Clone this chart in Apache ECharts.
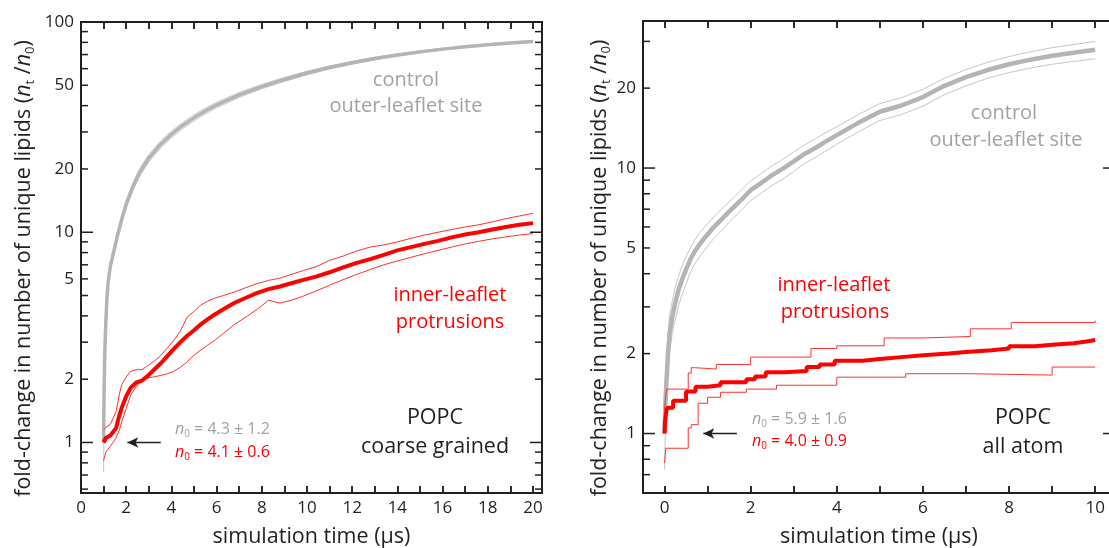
<!DOCTYPE html>
<html>
<head>
<meta charset="utf-8">
<script src="https://cdn.jsdelivr.net/npm/echarts@6/dist/echarts.min.js"></script>
<style>
  html, body { margin: 0; padding: 0; background: #fff; }
  #chart { width: 1109px; height: 548px; }
</style>
</head>
<body>
<div id="chart"></div>
<script>
// ---------- left panel: POPC coarse grained ----------
var cgCtrlTime = [1.0, 1.02, 1.05, 1.1, 1.15, 1.2, 1.3, 1.45, 1.6, 1.8, 2.0, 2.3, 2.6, 3.0, 3.5, 4.0, 4.5, 5.0, 5.5, 6.0, 7.0, 8.0, 9.0, 10, 11, 12, 13, 14, 15, 16, 17, 18, 19, 20];
var cgCtrlMean = [1.0, 1.7, 2.6, 3.8, 4.9, 5.8, 6.9, 8.1, 9.5, 11.5, 13.6, 16.5, 19.3, 22.5, 26.0, 29.2, 32.2, 35.0, 37.7, 40.3, 45.0, 49.3, 53.3, 57.2, 60.8, 64.0, 67.0, 69.7, 72.1, 74.3, 76.2, 78.0, 79.5, 80.8];
var cgCtrlUpper = [1.28, 1.95, 2.85, 4.05, 5.15, 6.05, 7.2, 8.45, 9.9, 12.0, 14.2, 17.2, 20.1, 23.4, 27.0, 30.3, 33.3, 36.2, 38.9, 41.5, 46.2, 50.5, 54.5, 58.3, 61.8, 65.0, 67.9, 70.5, 72.9, 75.0, 76.9, 78.7, 80.2, 81.5];
var cgCtrlLower = [0.72, 1.45, 2.35, 3.55, 4.65, 5.55, 6.6, 7.75, 9.1, 11.0, 13.0, 15.8, 18.5, 21.6, 25.0, 28.1, 31.1, 33.8, 36.5, 39.1, 43.8, 48.1, 52.1, 56.1, 59.8, 63.0, 66.1, 68.9, 71.3, 73.6, 75.5, 77.3, 78.8, 80.1];

var cgProtTime = [1.0, 1.1, 1.3, 1.55, 1.7, 1.8, 2.0, 2.2, 2.45, 2.7, 2.9, 3.2, 3.5, 3.8, 4.1, 4.4, 4.7, 5.0, 5.3, 5.6, 5.9, 6.3, 6.8, 7.3, 7.8, 8.3, 8.8, 9.3, 9.8, 10.4, 11.0, 11.6, 12.2, 12.8, 13.4, 14.0, 14.6, 15.2, 15.8, 16.4, 17.0, 17.6, 18.2, 18.8, 19.4, 20.0];
var cgProtMean = [1.0, 1.05, 1.08, 1.17, 1.35, 1.46, 1.66, 1.82, 1.93, 1.97, 2.05, 2.2, 2.36, 2.56, 2.78, 3.0, 3.22, 3.42, 3.65, 3.85, 4.05, 4.3, 4.62, 4.88, 5.15, 5.36, 5.52, 5.72, 5.92, 6.15, 6.45, 6.8, 7.15, 7.45, 7.8, 8.2, 8.5, 8.8, 9.1, 9.45, 9.75, 10.0, 10.3, 10.6, 10.85, 11.05];
var cgProtUpper = [1.15, 1.18, 1.22, 1.4, 1.7, 1.88, 2.05, 2.18, 2.22, 2.22, 2.3, 2.42, 2.57, 2.8, 3.05, 3.4, 3.95, 4.2, 4.5, 4.7, 4.85, 5.0, 5.2, 5.45, 5.7, 5.9, 6.05, 6.3, 6.55, 6.85, 7.35, 7.7, 8.15, 8.5, 8.7, 9.0, 9.35, 9.7, 10.0, 10.3, 10.6, 10.85, 11.2, 11.6, 11.95, 12.3];
var cgProtLower = [0.82, 0.9, 0.96, 1.05, 1.15, 1.25, 1.45, 1.68, 1.85, 1.97, 2.02, 2.05, 2.08, 2.12, 2.18, 2.28, 2.42, 2.6, 2.75, 2.9, 3.05, 3.3, 3.65, 3.95, 4.3, 4.75, 4.6, 4.75, 4.95, 5.25, 5.6, 5.95, 6.3, 6.65, 7.0, 7.3, 7.6, 7.9, 8.2, 8.5, 8.8, 9.05, 9.3, 9.5, 9.7, 9.85];

// ---------- right panel: POPC all atom ----------
var aaCtrlTime = [0, 0.02, 0.04, 0.08, 0.12, 0.18, 0.24, 0.32, 0.4, 0.5, 0.6, 0.7, 0.8, 0.95, 1.13, 1.3, 1.5, 1.75, 2.0, 2.25, 2.5, 2.75, 3.0, 3.25, 3.5, 3.75, 4.0, 4.5, 5.0, 5.5, 6.0, 6.5, 7.0, 7.5, 8.0, 8.5, 9.0, 9.5, 10.0];
var aaCtrlMean = [1.0, 1.3, 1.52, 2.0, 2.4, 2.75, 3.06, 3.45, 3.78, 4.15, 4.53, 4.85, 5.12, 5.5, 5.96, 6.35, 6.85, 7.5, 8.25, 8.8, 9.4, 9.95, 10.6, 11.3, 11.9, 12.6, 13.3, 14.8, 16.3, 17.2, 18.5, 20.4, 22.0, 23.4, 24.6, 25.6, 26.5, 27.2, 27.9];
var aaCtrlUpper = [1.27, 1.6, 1.85, 2.35, 2.8, 3.15, 3.5, 3.9, 4.25, 4.65, 5.0, 5.35, 5.65, 6.05, 6.5, 6.95, 7.45, 8.15, 8.95, 9.55, 10.2, 10.8, 11.5, 12.2, 12.9, 13.6, 14.3, 15.9, 17.5, 18.4, 19.8, 21.8, 23.5, 25.0, 26.3, 27.4, 28.4, 29.2, 30.0];
var aaCtrlLower = [0.73, 1.05, 1.25, 1.7, 2.05, 2.38, 2.65, 3.0, 3.32, 3.65, 4.05, 4.35, 4.6, 4.95, 5.4, 5.75, 6.25, 6.85, 7.55, 8.05, 8.6, 9.1, 9.7, 10.4, 10.95, 11.6, 12.3, 13.7, 15.1, 15.9, 17.1, 18.9, 20.4, 21.8, 22.9, 23.8, 24.6, 25.2, 25.8];

// protrusion counts change in steps: each pair is (time of change, new value)
var aaProtMeanTime = [0, 0.01, 0.03, 0.06, 0.2, 0.5, 0.72, 1.0, 1.3, 1.9, 2.1, 2.35, 2.8, 3.3, 3.6, 3.95, 4.6, 5.0, 5.5, 6.0, 6.6, 7.0, 7.6, 8.0, 8.6, 9.0, 9.5, 9.8, 10.0];
var aaProtMean = [1.0, 1.1, 1.18, 1.25, 1.33, 1.44, 1.5, 1.52, 1.56, 1.6, 1.64, 1.7, 1.72, 1.78, 1.82, 1.88, 1.91, 1.94, 1.97, 2.0, 2.03, 2.06, 2.09, 2.13, 2.16, 2.19, 2.22, 2.25, 2.25];
var aaProtUpperTime = [0, 0.02, 0.05, 0.55, 0.62, 0.7, 1.2, 2.0, 3.4, 4.0, 5.1, 6.0, 7.1, 8.05, 10.0];
var aaProtUpper = [1.22, 1.35, 1.47, 1.69, 1.77, 1.75, 1.82, 1.94, 2.09, 2.14, 2.29, 2.32, 2.48, 2.62, 2.66];
var aaProtLowerTime = [0, 0.03, 0.55, 0.62, 0.78, 1.0, 1.3, 1.9, 2.6, 4.0, 5.6, 7.1, 9.0, 10.0];
var aaProtLower = [0.775, 0.88, 1.05, 1.08, 1.3, 1.37, 1.43, 1.47, 1.52, 1.63, 1.68, 1.66, 1.78, 1.78];

// ---------- ticks ----------
var cgXTicks = [1, 2, 3, 4, 5, 6, 7, 8, 9, 10, 11, 12, 13, 14, 15, 16, 17, 18, 19, 20];
var cgXLabels = [0, 2, 4, 6, 8, 10, 12, 14, 16, 18, 20];
var aaXTicks = [0, 1, 2, 3, 4, 5, 6, 7, 8, 9, 10];
var aaXLabels = [0, 2, 4, 6, 8, 10];

var cgYMajor = [1, 10, 100];
var cgYMinor = [0.6, 0.7, 0.8, 0.9, 2, 3, 4, 5, 6, 7, 8, 9, 20, 30, 40, 50, 60, 70, 80, 90];
// in the original the "5" label sits on the 6 tick
var cgYLabelPos = [1, 2, 6, 10, 20, 50, 100];
var cgYLabelText = ['1', '2', '5', '10', '20', '50', '100'];
var aaYMajor = [1, 10];
var aaYMinor = [0.7, 0.8, 0.9, 2, 3, 4, 5, 6, 7, 8, 9, 20, 30];
var aaYLabelPos = [1, 2, 5, 10, 20];
var aaYLabelText = ['1', '2', '5', '10', '20'];

var cgX = [0, 20.4], cgY = [0.575, 100];
var aaX = [-0.5, 10.46], aaY = [0.597, 35.8];
var cgGrid = { left: 81, top: 22, width: 461, height: 471 };
var aaGrid = { left: 643, top: 21, width: 472, height: 472 };
// the right panel's 0..10 span, for an axis that only carries the 1-µs ticks
var aaPx = aaGrid.width / (aaX[1] - aaX[0]);
var aaTickGrid = { left: aaGrid.left - aaX[0] * aaPx, top: aaGrid.top, width: 10 * aaPx, height: aaGrid.height };

var INK = '#231f20';
var FONT = 'Open Sans';
var GRAY = '#b4b4b4', GRAY_THIN = '#c6c6c6', GRAY_TEXT = '#a2a2a2';
var RED = '#ff0000', RED_THIN = '#ff3030';

function lg(v) { return Math.log10(v); }
function pts(xs, ys) { return xs.map(function (x, i) { return [x, lg(ys[i])]; }); }

function xAxis(grid, ext, labels) {
  return {
    gridIndex: grid, type: 'value', min: ext[0], max: ext[1], position: 'bottom',
    axisLine: { show: true, onZero: false, lineStyle: { color: INK, width: 2 } },
    axisTick: { show: false },
    axisLabel: { customValues: labels, color: INK, fontSize: 17, fontFamily: FONT, margin: 7 },
    splitLine: { show: false },
    name: 'simulation time (µs)', nameLocation: 'middle', nameGap: 33,
    nameTextStyle: { color: INK, fontSize: 21.5, fontFamily: FONT }
  };
}
// tick-only axis (every 1 µs, pointing inward)
function tickAxis(grid, min, max, pos) {
  return {
    gridIndex: grid, type: 'value', min: min, max: max, interval: 1, position: pos,
    axisLine: { show: false, onZero: false },
    axisTick: { show: true, inside: true, length: 7, lineStyle: { color: INK, width: 1.5 } },
    axisLabel: { show: false }, splitLine: { show: false }
  };
}

function yAxis(grid, ext, labelPos, labelText, nameGap) {
  var posLog = labelPos.map(lg);
  return {
    gridIndex: grid, type: 'value', min: lg(ext[0]), max: lg(ext[1]), position: 'left',
    axisLine: { show: true, onZero: false, lineStyle: { color: INK, width: 2 } },
    axisTick: { show: false },
    splitLine: { show: false },
    axisLabel: {
      customValues: posLog, color: INK, fontSize: 17, fontFamily: FONT, margin: 7,
      formatter: function (v) {
        for (var i = 0; i < posLog.length; i++) {
          if (Math.abs(posLog[i] - v) < 1e-6) return labelText[i];
        }
        return '';
      }
    },
    name: 'fold-change in number of unique lipids ({i|n}{s|t} /{i|n}{s|0})',
    nameLocation: 'middle', nameGap: nameGap, nameRotate: 90,
    nameTextStyle: {
      color: INK, fontSize: 21.5, fontFamily: FONT, lineHeight: 26, padding: [0, 22, 0, 0],
      rich: {
        i: { fontStyle: 'italic', fontSize: 21.5, fontFamily: FONT, color: INK, lineHeight: 26 },
        s: { fontSize: 13, fontFamily: FONT, color: INK, lineHeight: 13, verticalAlign: 'bottom' }
      }
    }
  };
}

// inward y tick marks of one panel: height from coord(), panel edges from the grid rectangle
function yTickSeries(grid, xExt, yMajor, yMinor, rightMinor) {
  var mid = (xExt[0] + xExt[1]) / 2;
  var spec = [];
  yMajor.forEach(function (v) { spec.push({ v: lg(v), len: 12, both: true }); });
  yMinor.forEach(function (v) { spec.push({ v: lg(v), len: 7, both: rightMinor }); });
  function bar(x, y, w, h) {
    return { type: 'rect', shape: { x: x, y: y, width: w, height: h }, style: { fill: INK } };
  }
  return {
    type: 'custom', xAxisIndex: grid, yAxisIndex: grid, silent: true, clip: false, animation: false, z: 5,
    data: spec.map(function (s) { return [mid, s.v]; }),
    renderItem: function (params, api) {
      var s = spec[params.dataIndex], cs = params.coordSys, kids = [];
      var py = api.coord([mid, s.v])[1];
      kids.push(bar(cs.x, py - 0.75, s.len, 1.5));
      if (s.both) kids.push(bar(cs.x + cs.width - s.len, py - 0.75, s.len, 1.5));
      return { type: 'group', children: kids };
    }
  };
}

// inward x tick marks (bottom and top edge) as short mark lines in data units
function xTickLines(ticks, yExt, gridRect) {
  var lo = lg(yExt[0]), hi = lg(yExt[1]);
  var d = 7 * (hi - lo) / gridRect.height, eps = 1e-4;
  var data = [];
  ticks.forEach(function (v) {
    data.push([{ coord: [v, lo + eps] }, { coord: [v, lo + d] }]);
    data.push([{ coord: [v, hi - d] }, { coord: [v, hi - eps] }]);
  });
  return {
    silent: true, symbol: ['none', 'none'], label: { show: false }, emphasis: { disabled: true },
    lineStyle: { color: INK, width: 1.5, type: 'solid' }, data: data
  };
}

function line(g, data, color, width, extra) {
  return Object.assign({
    type: 'line', xAxisIndex: g, yAxisIndex: g, data: data, showSymbol: false, symbol: 'none',
    lineStyle: { color: color, width: width }, silent: true, animation: false
  }, extra || {});
}

function arrow(x0, x1) {
  return {
    silent: true, symbol: ['none', 'arrow'], symbolSize: [8, 11],
    label: { show: false }, lineStyle: { color: INK, width: 1.3, type: 'solid' },
    emphasis: { disabled: true },
    data: [[{ coord: [x0, lg(1)] }, { coord: [x1, lg(1)] }]]
  };
}

function txt(x, y, s, color, size) {
  return {
    type: 'text', x: x, y: y, silent: true,
    style: { text: s, fill: color, fontSize: size || 20, fontFamily: FONT, align: 'center', verticalAlign: 'middle' }
  };
}
function n0(x, y, s, color) {
  return {
    type: 'text', x: x, y: y, silent: true,
    style: {
      text: '{i|n}{s|0}' + s, fill: color, fontSize: 16, fontFamily: FONT, align: 'left', verticalAlign: 'middle',
      lineHeight: 20,
      rich: {
        i: { fontStyle: 'italic', fontSize: 16, fontFamily: FONT, fill: color, lineHeight: 20 },
        s: { fontSize: 10, fontFamily: FONT, fill: color, lineHeight: 10, verticalAlign: 'bottom' }
      }
    }
  };
}

var box = { show: true, borderColor: INK, borderWidth: 2, backgroundColor: 'transparent', outerBoundsMode: 'none', containLabel: false };

var chart = echarts.init(document.getElementById('chart'));
chart.setOption({
  backgroundColor: '#fff',
  animation: false,
  grid: [
    Object.assign({}, cgGrid, box),
    Object.assign({}, aaGrid, box),
    Object.assign({}, aaTickGrid, { show: false, outerBoundsMode: 'none', containLabel: false })
  ],
  xAxis: [
    xAxis(0, cgX, cgXLabels), xAxis(1, aaX, aaXLabels),
    tickAxis(0, cgX[0], cgX[1], 'bottom'), tickAxis(0, cgX[0], cgX[1], 'top'),
    tickAxis(2, 0, 10, 'bottom'), tickAxis(2, 0, 10, 'top')
  ],
  yAxis: [
    yAxis(0, cgY, cgYLabelPos, cgYLabelText, 44), yAxis(1, aaY, aaYLabelPos, aaYLabelText, 30),
    { gridIndex: 2, type: 'value', min: 0, max: 1, show: false }
  ],
  series: [
    yTickSeries(0, cgX, cgYMajor, cgYMinor, true),
    line(0, pts(cgCtrlTime, cgCtrlUpper), GRAY_THIN, 1, { markLine: xTickLines(cgXTicks, cgY, cgGrid) }),
    line(0, pts(cgCtrlTime, cgCtrlLower), GRAY_THIN, 1),
    line(0, pts(cgCtrlTime, cgCtrlMean), GRAY, 3.5),
    line(0, pts(cgProtTime, cgProtUpper), RED_THIN, 1),
    line(0, pts(cgProtTime, cgProtLower), RED_THIN, 1),
    line(0, pts(cgProtTime, cgProtMean), RED, 4, { markLine: arrow(3.53, 2.05) }),

    yTickSeries(1, aaX, aaYMajor, aaYMinor, false),
    line(1, pts(aaCtrlTime, aaCtrlUpper), GRAY_THIN, 1, { markLine: xTickLines(aaXTicks, aaY, aaGrid) }),
    line(1, pts(aaCtrlTime, aaCtrlLower), GRAY_THIN, 1),
    line(1, pts(aaCtrlTime, aaCtrlMean), GRAY, 4.5),
    line(1, pts(aaProtUpperTime, aaProtUpper), RED_THIN, 1, { step: 'end' }),
    line(1, pts(aaProtLowerTime, aaProtLower), RED_THIN, 1, { step: 'end' }),
    line(1, pts(aaProtMeanTime, aaProtMean), RED, 4, { step: 'end', markLine: arrow(1.68, 0.9) })
  ],
  graphic: [
    txt(406, 80, 'control', GRAY_TEXT),
    txt(406, 106, 'outer-leaflet site', GRAY_TEXT),
    txt(450, 295, 'inner-leaflet', RED),
    txt(450, 322, 'protrusions', RED),
    txt(435, 418, 'POPC', INK, 21.5),
    txt(435, 447, 'coarse grained', INK, 21.5),
    n0(175, 429, ' = 4.3 ± 1.2', GRAY_TEXT),
    n0(175, 452, ' = 4.1 ± 0.6', RED),

    txt(1004, 113, 'control', GRAY_TEXT),
    txt(1006, 140, 'outer-leaflet site', GRAY_TEXT),
    txt(834, 285, 'inner-leaflet', RED),
    txt(835, 312, 'protrusions', RED),
    txt(1023, 418, 'POPC', INK, 21.5),
    txt(1023, 447, 'all atom', INK, 21.5),
    n0(752, 419, ' = 5.9 ± 1.6', GRAY_TEXT),
    n0(752, 441, ' = 4.0 ± 0.9', RED)
  ]
});
</script>
</body>
</html>
